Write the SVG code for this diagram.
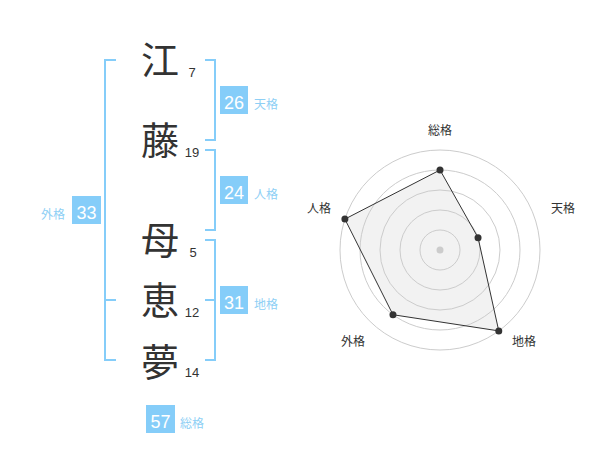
<svg xmlns="http://www.w3.org/2000/svg" width="600" height="470" viewBox="0 0 600 470">
<style>
.ch{font-family:"Noto Sans CJK JP","Noto Sans CJK SC",sans-serif;font-size:38px;fill:#333;text-anchor:middle}
.num{font-family:"Liberation Sans",Arial,sans-serif;font-size:13px;fill:#333;text-anchor:middle}
.br{fill:none;stroke:#85cdf9;stroke-width:2}
.box{fill:#85cdf9}
.bn{font-family:"Liberation Sans",Arial,sans-serif;font-size:18px;fill:#fff;text-anchor:middle}
.bl{font-family:"Noto Sans CJK JP","Noto Sans CJK SC",sans-serif;font-size:12px;fill:#8ecff5}
.ring{fill:none;stroke:#ccc;stroke-width:1}
.ax{font-family:"Noto Sans CJK JP","Noto Sans CJK SC",sans-serif;font-size:12px;fill:#333;text-anchor:middle}
.pt{fill:#333}
</style>
<rect width="600" height="470" fill="#fff"/>
<g id="connectors">
<path class="br" d="M116,60 H105 V360 H116 M105,300 H116"/>
<path class="br" d="M205,60 H215 V140 H205"/>
<path class="br" d="M205,150 H215 V230 H205"/>
<path class="br" d="M205,240 H215 V360 H205 M205,300 H215"/>
</g>
<g id="name">
<text class="ch" x="160" y="74">江</text>
<text class="num" x="192" y="77">7</text>
<text class="ch" x="160" y="154">藤</text>
<text class="num" x="192" y="157">19</text>
<text class="ch" x="160" y="254">母</text>
<text class="num" x="193" y="257">5</text>
<text class="ch" x="160" y="314">恵</text>
<text class="num" x="192" y="317">12</text>
<text class="ch" x="160" y="376">夢</text>
<text class="num" x="192" y="377">14</text>
</g>
<g id="tenkaku">
<rect class="box" x="220" y="86" width="28" height="28"/>
<text class="bn" x="234" y="108.5">26</text>
<text class="bl" x="254" y="108.5">天格</text>
</g>
<g id="jinkaku">
<rect class="box" x="220" y="176" width="28" height="28"/>
<text class="bn" x="234" y="198.5">24</text>
<text class="bl" x="254" y="198.5">人格</text>
</g>
<g id="chikaku">
<rect class="box" x="220" y="286" width="28" height="28"/>
<text class="bn" x="234" y="308.5">31</text>
<text class="bl" x="254" y="308.5">地格</text>
</g>
<g id="gaikaku">
<rect class="box" x="72" y="196" width="29" height="28"/>
<text class="bn" x="86.5" y="218.5">33</text>
<text class="bl" x="41" y="218.5">外格</text>
</g>
<g id="soukaku">
<rect class="box" x="146" y="405" width="29" height="28"/>
<text class="bn" x="160.5" y="427.5">57</text>
<text class="bl" x="180" y="427.5">総格</text>
</g>
<g id="radar">
<polygon points="440,170 478.04,237.64 498.78,330.9 392.98,314.72 344.89,219.1" fill="#f2f2f2" stroke="none"/>
<circle class="ring" cx="440" cy="250" r="20"/>
<circle class="ring" cx="440" cy="250" r="40"/>
<circle class="ring" cx="440" cy="250" r="60"/>
<circle class="ring" cx="440" cy="250" r="80"/>
<circle class="ring" cx="440" cy="250" r="100"/>
<circle cx="440" cy="250" r="3.5" fill="#ccc"/>
<polygon points="440,170 478.04,237.64 498.78,330.9 392.98,314.72 344.89,219.1" fill="none" stroke="#333" stroke-width="1"/>
<circle class="pt" cx="440" cy="170" r="3.5"/>
<circle class="pt" cx="478.04" cy="237.64" r="3.5"/>
<circle class="pt" cx="498.78" cy="330.9" r="3.5"/>
<circle class="pt" cx="392.98" cy="314.72" r="3.5"/>
<circle class="pt" cx="344.89" cy="219.1" r="3.5"/>
<text class="ax" x="440" y="135">総格</text>
<text class="ax" x="563" y="213">天格</text>
<text class="ax" x="524" y="346">地格</text>
<text class="ax" x="353" y="346">外格</text>
<text class="ax" x="319" y="213">人格</text>
</g>
</svg>
